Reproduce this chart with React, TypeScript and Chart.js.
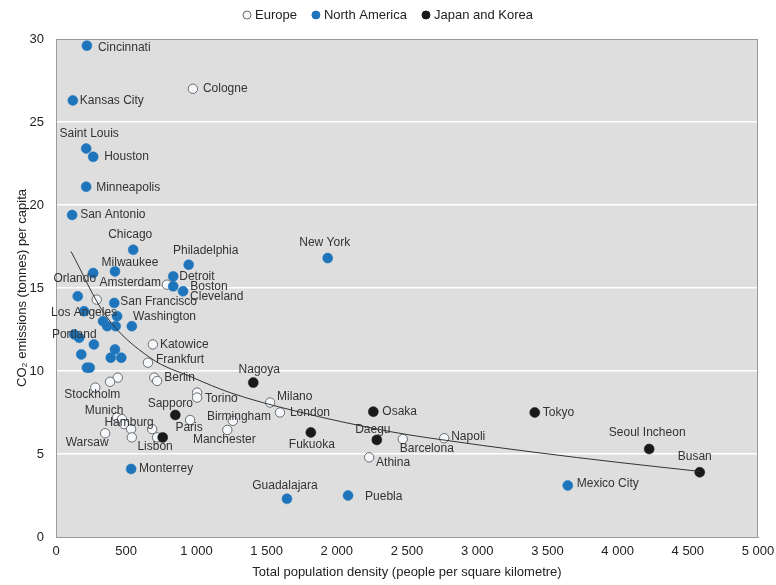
import React, { useEffect, useRef } from "react";
import { Chart, registerables } from "chart.js";

Chart.register(...registerables);

const FONT = "Arial, 'Liberation Sans', Helvetica, sans-serif";

// ---------- Data ----------
const seriesNames = ["Europe", "North America", "Japan and Korea"];

const europeNames = ["Cologne", "Amsterdam", "", "Katowice", "Frankfurt", "Berlin", "", "", "", "Stockholm", "", "Torino", "Milano", "London", "Birmingham", "Manchester", "Paris", "Munich", "", "Hamburg", "", "", "Warsaw", "", "Lisbon", "Athina", "Barcelona", "Napoli"];
const europeX = [975, 790, 290, 690, 655, 700, 720, 440, 385, 280, 1005, 1005, 1525, 1595, 1260, 1220, 955, 435, 470, 485, 535, 540, 350, 685, 720, 2230, 2470, 2765];
const europeY = [27.0, 15.2, 14.3, 11.6, 10.5, 9.6, 9.4, 9.6, 9.35, 9.0, 8.7, 8.4, 8.1, 7.5, 7.0, 6.45, 7.05, 7.2, 7.1, 6.8, 6.5, 6.0, 6.25, 6.5, 6.0, 4.8, 5.9, 5.95];

const northAmericaNames = ["Cincinnati", "Kansas City", "Saint Louis", "Houston", "Minneapolis", "San Antonio", "Chicago", "Philadelphia", "New York", "Milwaukee", "", "Detroit", "Boston", "Cleveland", "Orlando", "San Francisco", "Los Angeles", "Washington", "", "", "", "", "Portland", "", "", "", "", "", "", "", "", "Monterrey", "Guadalajara", "Puebla", "Mexico City"];
const northAmericaX = [220, 120, 215, 265, 215, 115, 550, 945, 1935, 420, 265, 835, 835, 905, 155, 415, 200, 435, 335, 365, 425, 540, 130, 165, 270, 420, 180, 390, 465, 220, 240, 535, 1645, 2080, 3645];
const northAmericaY = [29.6, 26.3, 23.4, 22.9, 21.1, 19.4, 17.3, 16.4, 16.8, 16.0, 15.9, 15.7, 15.1, 14.8, 14.5, 14.1, 13.6, 13.3, 13.0, 12.7, 12.7, 12.7, 12.2, 12.0, 11.6, 11.3, 11.0, 10.8, 10.8, 10.2, 10.2, 4.1, 2.3, 2.5, 3.1];

const japanKoreaNames = ["Nagoya", "Sapporo", "", "Fukuoka", "Osaka", "Daegu", "Tokyo", "Seoul Incheon", "Busan"];
const japanKoreaX = [1405, 850, 760, 1815, 2260, 2285, 3410, 4225, 4585];
const japanKoreaY = [9.3, 7.35, 6.0, 6.3, 7.55, 5.85, 7.5, 5.3, 3.9];

// trend curve, points
const trendX = [107, 349, 670, 976, 1239, 1700, 2379, 2664, 3412, 4000, 4587];
const trendY = [17.2, 13.4, 10.8, 9.6, 8.7, 7.6, 6.35, 5.96, 5.1, 4.5, 3.95];

const xTickLabels = ["0", "500", "1 000", "1 500", "2 000", "2 500", "3 000", "3 500", "4 000", "4 500", "5 000"];
const yTickLabels = ["0", "5", "10", "15", "20", "25", "30"];

// ---------- Label placement (style, not data): [dx, dy, align] ----------
const labelPlacement: Record<string, [number, number, CanvasTextAlign]> = {
  "Cincinnati": [11, 2, "left"],
  "Kansas City": [7, 0, "left"],
  "Saint Louis": [3, -15, "center"],
  "Houston": [11, 0, "left"],
  "Minneapolis": [10, 1, "left"],
  "San Antonio": [8, 0, "left"],
  "Chicago": [-3, -15, "center"],
  "Philadelphia": [17, -14, "center"],
  "New York": [-3, -15, "center"],
  "Milwaukee": [15, -9, "center"],
  "Detroit": [6, 0, "left"],
  "Boston": [17, 0, "left"],
  "Cleveland": [7, 5, "left"],
  "Orlando": [-3, -18, "center"],
  "San Francisco": [6, -1, "left"],
  "Los Angeles": [0, 1, "center"],
  "Washington": [16, 0, "left"],
  "Portland": [0, 0, "center"],
  "Monterrey": [8, 0, "left"],
  "Guadalajara": [-2, -13, "center"],
  "Puebla": [17, 1, "left"],
  "Mexico City": [9, -2, "left"],
  "Nagoya": [6, -13, "center"],
  "Sapporo": [-5, -11, "center"],
  "Fukuoka": [1, 12, "center"],
  "Osaka": [9, 0, "left"],
  "Daegu": [-4, -10, "center"],
  "Tokyo": [8, 0, "left"],
  "Seoul Incheon": [-2, -16, "center"],
  "Busan": [-5, -16, "center"],
  "Cologne": [10, 0, "left"],
  "Amsterdam": [-6, -2, "right"],
  "Katowice": [7, 0, "left"],
  "Frankfurt": [8, -3, "left"],
  "Berlin": [10, 0, "left"],
  "Stockholm": [-3, 7, "center"],
  "Torino": [8, 1, "left"],
  "Milano": [7, -6, "left"],
  "London": [10, 0, "left"],
  "Birmingham": [6, -4, "center"],
  "Manchester": [-3, 10, "center"],
  "Paris": [-1, 8, "center"],
  "Munich": [-13, -7, "center"],
  "Hamburg": [5, -1, "center"],
  "Warsaw": [-18, 9, "center"],
  "Lisbon": [-2, 9, "center"],
  "Athina": [7, 5, "left"],
  "Barcelona": [24, 10, "center"],
  "Napoli": [7, -2, "left"],
};

const toPoints = (xs: number[], ys: number[]) => xs.map((x, i) => ({ x, y: ys[i] }));

const BLUE = "#1f75bc";
const BLACK = "#1a1a1a";
const EU_FILL = "#f4f7fb";
const EU_BORDER = "#6b6b6b";

export default function App() {
  const canvasRef = useRef<HTMLCanvasElement | null>(null);

  useEffect(() => {
    document.body.style.margin = "0";
    const canvas = canvasRef.current;
    if (!canvas) return;

    const namesByDataset: (string[] | null)[] = [europeNames, northAmericaNames, japanKoreaNames, null];

    const decorPlugin = {
      id: "decor",
      beforeDraw(chart: any) {
        const { ctx, chartArea: a } = chart;
        ctx.save();
        ctx.fillStyle = "#dedede";
        ctx.fillRect(a.left, a.top, a.right - a.left, a.bottom - a.top);
        ctx.restore();
      },
      beforeDatasetsDraw(chart: any) {
        const { ctx, chartArea: a } = chart;
        ctx.save();
        ctx.strokeStyle = "#9a9a9a";
        ctx.lineWidth = 1;
        ctx.strokeRect(a.left + 0.5, a.top + 0.5, a.right - a.left - 1, a.bottom - a.top);
        ctx.restore();
      },
      afterDatasetsDraw(chart: any) {
        const { ctx } = chart;
        ctx.save();
        ctx.font = `12px ${FONT}`;
        ctx.fillStyle = "#333333";
        ctx.textBaseline = "middle";
        namesByDataset.forEach((names, di) => {
          if (!names) return;
          const meta = chart.getDatasetMeta(di);
          names.forEach((name, i) => {
            if (!name) return;
            const el = meta.data[i];
            const p = labelPlacement[name] || [8, 0, "left"];
            ctx.textAlign = p[2];
            ctx.fillText(name, el.x + p[0], el.y + p[1]);
          });
        });
        ctx.restore();
      },
      afterDraw(chart: any) {
        const { ctx } = chart;
        ctx.save();
        ctx.font = `13px ${FONT}`;
        ctx.textBaseline = "middle";
        ctx.textAlign = "left";
        const r = 4;
        const gapText = 4;
        const gapItem = 15;
        const widths = seriesNames.map((n) => 2 * r + gapText + ctx.measureText(n).width);
        const total = widths.reduce((s, w) => s + w, 0) + gapItem * (seriesNames.length - 1);
        let x = chart.width / 2 - total / 2;
        const y = 15;
        seriesNames.forEach((n, i) => {
          const ds = chart.data.datasets[i];
          ctx.beginPath();
          ctx.arc(x + r, y, r, 0, Math.PI * 2);
          ctx.fillStyle = ds.backgroundColor;
          ctx.fill();
          ctx.lineWidth = 1;
          ctx.strokeStyle = ds.borderColor;
          ctx.stroke();
          ctx.fillStyle = "#222222";
          ctx.fillText(n, x + 2 * r + gapText, y + 0.5);
          x += widths[i] + gapItem;
        });
        ctx.restore();
      },
    };

    const chart = new Chart(canvas, {
      type: "scatter",
      data: {
        datasets: [
          {
            label: seriesNames[0],
            data: toPoints(europeX, europeY),
            backgroundColor: EU_FILL,
            borderColor: EU_BORDER,
            borderWidth: 1,
            pointRadius: 4.7,
            order: 3,
          },
          {
            label: seriesNames[1],
            data: toPoints(northAmericaX, northAmericaY),
            backgroundColor: BLUE,
            borderColor: BLUE,
            borderWidth: 0.5,
            pointRadius: 5,
            order: 2,
          },
          {
            label: seriesNames[2],
            data: toPoints(japanKoreaX, japanKoreaY),
            backgroundColor: BLACK,
            borderColor: BLACK,
            borderWidth: 0.5,
            pointRadius: 5,
            order: 1,
          },
          {
            label: "trend",
            data: toPoints(trendX, trendY),
            showLine: true,
            borderColor: "#333333",
            borderWidth: 1,
            pointRadius: 0,
            fill: false,
            cubicInterpolationMode: "monotone",
            order: 0,
          } as any,
        ],
      },
      options: {
        responsive: false,
        animation: false,
        events: [],
        layout: { padding: { top: 39, right: 18, bottom: 0, left: 0 } },
        plugins: {
          legend: { display: false },
          tooltip: { enabled: false },
        },
        scales: {
          x: {
            type: "linear",
            min: 0,
            max: 5000,
            ticks: {
              stepSize: 500,
              autoSkip: false,
              maxRotation: 0,
              padding: 7,
              color: "#222222",
              font: { size: 13, family: FONT },
              callback: (_v: any, i: number) => xTickLabels[i],
            },
            grid: { display: false, drawTicks: false },
            border: { display: true, color: "#9a9a9a" },
            title: {
              display: true,
              text: "Total population density (people per square kilometre)",
              color: "#222222",
              font: { size: 13, family: FONT },
              padding: { top: 0, bottom: 5 },
            },
            afterFit: (s: any) => {
              s.height = 48;
              s.paddingRight = 10;
              s.paddingLeft = 0;
            },
          },
          y: {
            min: 0,
            max: 30,
            ticks: {
              stepSize: 5,
              padding: 12,
              color: "#222222",
              font: { size: 13, family: FONT },
              callback: (_v: any, i: number) => yTickLabels[i],
            },
            grid: {
              drawTicks: false,
              color: (c: any) => (c.tick && (c.tick.value === 0 || c.tick.value === 30) ? "rgba(0,0,0,0)" : "#ffffff"),
              lineWidth: 1.5,
            },
            border: { display: true, color: "#9a9a9a" },
            title: {
              display: true,
              text: "CO₂ emissions (tonnes) per capita",
              color: "#222222",
              font: { size: 13, family: FONT },
              padding: { top: 15, bottom: 0 },
            },
            afterFit: (s: any) => {
              s.width = 56;
            },
          },
        },
      } as any,
      plugins: [decorPlugin],
    });

    return () => {
      chart.destroy();
    };
  }, []);

  return (
    <div style={{ width: 776, height: 585, background: "#ffffff" }}>
      <canvas ref={canvasRef} width={776} height={585} style={{ display: "block", width: 776, height: 585 }} />
    </div>
  );
}
